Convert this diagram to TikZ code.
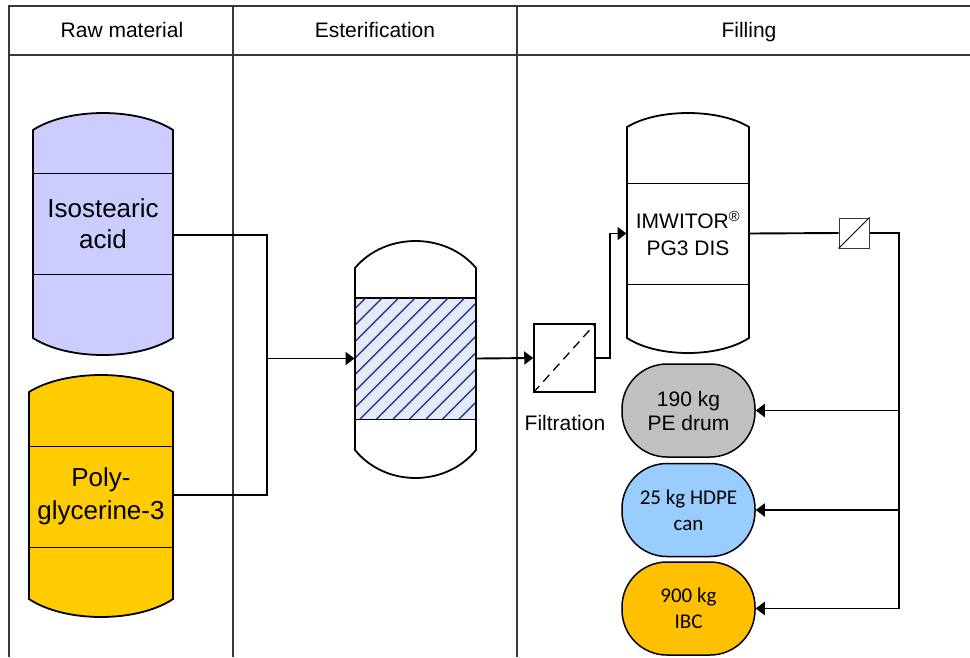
\documentclass[tikz,border=0pt]{standalone}
\usepackage{fontspec}
\setmainfont{Liberation Sans}
\newfontfamily\calfont{Carlito}
\usetikzlibrary{arrows.meta}
\definecolor{isoC}{HTML}{CCCCFF}
\definecolor{polyC}{HTML}{FFCC00}
\definecolor{drumC}{HTML}{C0C0C0}
\definecolor{canC}{HTML}{99CCFF}
\definecolor{ibcC}{HTML}{FFC000}
\definecolor{hatchBg}{HTML}{E4EAF6}
\definecolor{hatchLn}{HTML}{2B3990}
\definecolor{gridC}{HTML}{383838}
\newcommand\tankoutline[7]{%
  \path[#7] (#1,#4) .. controls ({#1+0.25*(#2-#1)},{#4-1.333*(#4-#3)}) and ({#2-0.25*(#2-#1)},{#4-1.333*(#4-#3)}) .. (#2,#4)
    -- (#2,#5) .. controls ({#2-0.25*(#2-#1)},{#5+1.333*(#6-#5)}) and ({#1+0.25*(#2-#1)},{#5+1.333*(#6-#5)}) .. (#1,#5) -- cycle;}
\begin{document}
\begin{tikzpicture}[x=1pt,y=-1pt,
  grid/.style={draw=gridC,line width=1.1pt},
  hdr/.style={font=\fontsize{21}{25}\selectfont,inner sep=0pt,anchor=base},
  tankline/.style={draw=black,line width=1.8pt},
  band/.style={draw=black,line width=1pt,inner sep=0pt,align=center},
  conn/.style={draw=black,line width=1.9pt},
  arr/.style={conn,-{Triangle[length=9pt,width=13pt]}},
  cont/.style={draw=black,line width=1.5pt,rounded corners=45pt,minimum width=133pt,minimum height=93pt,inner sep=0pt,align=center,font=\fontsize{21}{24}\selectfont},
  lbl/.style={inner sep=0pt,align=center}]
\useasboundingbox (0,0) rectangle (970,657);
% table
\draw[grid] (9,657) -- (9,6) -- (970,6);
\draw[grid] (9,55) -- (970,55);
\draw[grid] (233,6) -- (233,657);
\draw[grid] (517,6) -- (517,657);
\node[hdr] (h1) at (122,37.5) {Raw material};
\node[hdr] (h2) at (375,37.5) {Esterification};
\node[hdr] (h3) at (749,37.5) {Filling};
% Isostearic acid tank
\tankoutline{33}{173}{113}{130}{338}{355}{fill=isoC}
\node[band,minimum width=140pt,minimum height=101pt,font=\fontsize{26}{31}\selectfont] (iso) at (103,223.5) {Isostearic\\acid};
\tankoutline{33}{173}{113}{130}{338}{355}{tankline}
% Polyglycerine tank
\tankoutline{29}{173}{375}{392}{599}{617}{fill=polyC}
\node[band,minimum width=144pt,minimum height=101pt,font=\fontsize{26}{33}\selectfont] (poly) at (101,496.5) {Poly-\\glycerine-3};
\tankoutline{29}{173}{375}{392}{599}{617}{tankline}
% Reactor
\tankoutline{355}{476}{241}{268}{450}{478}{fill=white}
\node[band,fill=hatchBg,minimum width=121pt,minimum height=121pt] (reac) at (415.5,358.5) {};
\begin{scope}
\clip (355,298) rectangle (476,419);
\foreach \k in {0,...,15}{
  \draw[hatchLn,line width=1.4pt] ({228+\k*16.5},419) -- ({349+\k*16.5},298);
}
\end{scope}
\draw[line width=1.3pt] (reac.north west) rectangle (reac.south east);
\tankoutline{355}{476}{241}{268}{450}{478}{tankline}
% Product tank
\tankoutline{627}{749}{113}{127}{338}{353}{fill=white}
\node[band,minimum width=122pt,minimum height=101pt,font=\fontsize{21}{27}\selectfont] (prod) at (688,233.5) {IMWITOR\textsuperscript{®}\\PG3 DIS};
\tankoutline{627}{749}{113}{127}{338}{353}{tankline}
% Filtration
\node[draw=black,line width=1.5pt,minimum width=61pt,minimum height=68pt,inner sep=0pt] (filt) at (564.5,358) {};
\draw[line width=1.3pt,dash pattern=on 9pt off 6pt] (filt.south west) -- (filt.north east);
\node[lbl,font=\fontsize{21}{25}\selectfont] (filtlbl) at (565,423) {Filtration};
% small filter
\node[draw=gridC,line width=1pt,minimum size=30pt,inner sep=0pt] (sf) at (854,233) {};
\draw[line width=1pt] (sf.south west) -- (sf.north east);
% containers
\node[cont,fill=drumC] (drum) at (688.5,410.5) {190 kg\\PE drum};
\node[cont,fill=canC,font=\calfont\fontsize{21}{26}\selectfont] (can) at (688.5,510) {25 kg HDPE\\can};
\node[cont,fill=ibcC,font=\calfont\fontsize{21}{26}\selectfont] (ibc) at (688.5,608.5) {900 kg\\IBC};
% connectors
\coordinate (isoOut) at (173,235);
\coordinate (polyOut) at (173,495);
\coordinate (j1) at (267,358.5);
\coordinate (vb) at (899,608.5);
\draw[conn] (isoOut) -| (j1);
\draw[conn] (polyOut) -| (j1);
\draw[arr] (j1) -- (reac.west);
\draw[arr] (reac.east) -- (filt.west);
\draw[arr] (filt.east) -- ++(14,0) |- (prod.west);
\draw[conn] (prod.east) -- (sf.west);
\draw[conn] (sf.east) -| (vb);
\draw[arr] (vb) -- (ibc.east);
\draw[arr] (drum.east -| vb) -- (drum.east);
\draw[arr] (can.east -| vb) -- (can.east);
\end{tikzpicture}
\end{document}
